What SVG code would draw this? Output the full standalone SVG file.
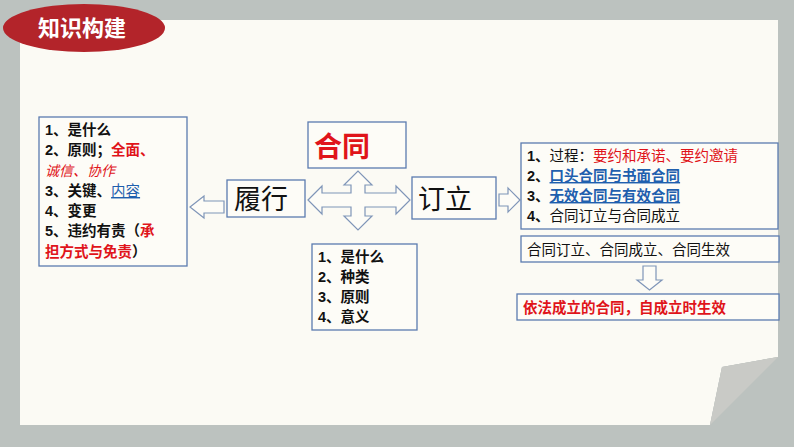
<svg xmlns="http://www.w3.org/2000/svg" width="794" height="447" viewBox="0 0 794 447">
<style>
.box{fill:#fdfcf7;stroke:#5b7bb0;stroke-width:1.3}
.ar{fill:#fdfcf7;stroke:#7f95b8;stroke-width:1.2}
text{font-family:"Liberation Sans","Noto Sans CJK SC",sans-serif;font-size:14.5px;font-weight:bold;fill:#111}
.r{fill:#e0141a}.u{fill:#1f5fae;text-decoration:underline}
.big{font-size:27px;font-weight:normal}
</style>
<rect width="794" height="447" fill="#bcc2bf"/>
<path d="M20 20H778V357L722 367L710 425H20Z" fill="#fbfaf4"/>
<path d="M778 357L722 367L710 425L778 425Z" fill="#bcc2bf"/>
<path d="M722 367L778 357L710 425Z" fill="#c9cac6"/>
<g id="title"><ellipse cx="84" cy="28" rx="81" ry="24" fill="#b3242a"/><text x="38" y="36" style="fill:#fff;font-size:22px">知识构建</text></g>
<g id="connectors">
<path class="ar" d="M224 201H204V196L190 207L204 218V213H224Z"/>
<path class="ar" d="M308 200L322 186V193H351V185H344L358 171L372 185H365V193H396V186L410 200L396 214V207H365V216H372L358 230L344 216H351V207H322V214Z"/>
<path class="ar" d="M499 194H508V188L520 200L508 212V206H499Z"/>
<path class="ar" d="M643 266H656V280H662L649.5 290L637 280H643Z"/>
</g>
<g id="n-left"><rect class="box" x="39" y="117" width="148" height="149"/>
<text x="45" y="135">1、是什么</text>
<text x="45" y="155">2、原则；<tspan class="r">全面、</tspan></text>
<text x="45" y="176" class="r" style="font-style:italic;font-weight:normal;font-size:14px">诚信、协作</text>
<text x="45" y="196">3、关键、<tspan class="u" style="font-weight:normal">内容</tspan></text>
<text x="45" y="216">4、变更</text>
<text x="45" y="236">5、违约有责（<tspan class="r">承</tspan></text>
<text x="45" y="257"><tspan class="r">担方式与免责</tspan>）</text>
</g>
<g id="n-lvxing"><rect class="box" x="227" y="180" width="78" height="37"/><text class="big" x="234" y="209">履行</text></g>
<g id="n-hetong"><rect class="box" x="308" y="122" width="98" height="46"/><text class="big r" x="314" y="157" style="font-weight:bold;font-size:28px">合同</text></g>
<g id="n-dingli"><rect class="box" x="412" y="177" width="84" height="42"/><text class="big" x="418" y="209">订立</text></g>
<g id="n-mid"><rect class="box" x="312" y="244" width="105" height="86"/>
<text x="318" y="262">1、是什么</text><text x="318" y="282">2、种类</text><text x="318" y="302">3、原则</text><text x="318" y="322">4、意义</text></g>
<g id="n-right"><rect class="box" x="521" y="143" width="257" height="86"/>
<text x="527" y="161">1、<tspan style="font-weight:normal">过程：</tspan><tspan class="r" style="font-weight:normal">要约和承诺、要约邀请</tspan></text>
<text x="527" y="181">2、<tspan class="u">口头合同与书面合同</tspan></text>
<text x="527" y="201">3、<tspan class="u">无效合同与有效合同</tspan></text>
<text x="527" y="221">4、<tspan style="font-weight:normal">合同订立与合同成立</tspan></text></g>
<g id="n-stage"><rect class="box" x="521" y="236" width="258" height="26"/><text x="527" y="255" style="font-weight:normal">合同订立、合同成立、合同生效</text></g>
<g id="n-effect"><rect class="box" x="517" y="294" width="262" height="26"/><text class="r" x="523" y="313">依法成立的合同，自成立时生效</text></g>
</svg>
